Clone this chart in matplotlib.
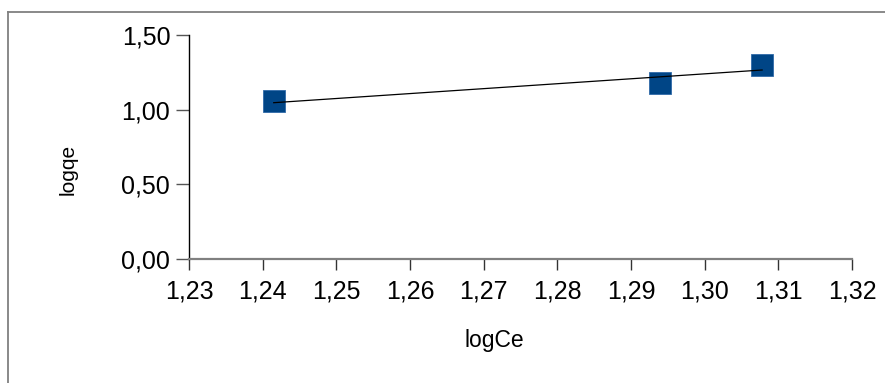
import numpy as np
import matplotlib
matplotlib.use("Agg")
import matplotlib.pyplot as plt
from matplotlib.lines import Line2D
from matplotlib.ticker import FuncFormatter

plt.rcParams["font.family"] = ["Liberation Sans", "DejaVu Sans"]

# ----- data -----
log_ce = [1.2415, 1.2939, 1.3078]
log_qe = [1.055, 1.180, 1.297]
x_ticks = [1.23, 1.24, 1.25, 1.26, 1.27, 1.28, 1.29, 1.30, 1.31, 1.32]
y_ticks = [0.0, 0.5, 1.0, 1.5]

_blue = "#004586"
_gray = "#808080"

W, H = 885, 383
fig = plt.figure(figsize=(W / 100, H / 100), dpi=100)
ax = fig.add_axes([189 / W, 1 - 259 / H, (852 - 189) / W, (259 - 35) / H])

# linear trend through the points
slope, icpt = np.polyfit(log_ce, log_qe, 1)
xs = np.array([min(log_ce), max(log_ce)])
ax.plot(xs, slope * xs + icpt, color="black", lw=0.9, zorder=3)
ax.plot(log_ce, log_qe, ls="none", marker="s", ms=16, color=_blue,
        markeredgecolor="#2f6aa8", markeredgewidth=0.6, zorder=2)

ax.set_xlim(x_ticks[0], x_ticks[-1])
ax.set_ylim(y_ticks[0], y_ticks[-1])
ax.set_xticks(x_ticks)
ax.set_yticks(y_ticks)
comma = lambda v, p: f"{v:.2f}".replace(".", ",")
ax.xaxis.set_major_formatter(FuncFormatter(comma))
ax.yaxis.set_major_formatter(FuncFormatter(comma))

for s in ["top", "right"]:
    ax.spines[s].set_visible(False)
ax.spines["left"].set_color("black")
ax.spines["left"].set_linewidth(1.0)
ax.spines["bottom"].set_color(_gray)
ax.spines["bottom"].set_linewidth(1.6)

ax.tick_params(axis="y", direction="out", length=9.5, width=1.0, color="#555555",
               labelsize=18, pad=4)
ax.tick_params(axis="x", direction="out", length=8, width=1.0, color="#333333",
               labelsize=18, pad=7)

ax.set_xlabel("logCe", fontsize=16.5)
ax.set_ylabel("logqe", fontsize=15)
ax.xaxis.set_label_coords(0.46, -0.362)
ax.yaxis.set_label_coords(-0.182, 0.40)
ax.xaxis.label.set_va("center")
ax.yaxis.label.set_va("center")

# outer frame (top and left edges only show)
fig.add_artist(Line2D([8 / W, 1], [1 - 12 / H, 1 - 12 / H], color=_gray, lw=1.3,
                      transform=fig.transFigure))
fig.add_artist(Line2D([8 / W, 8 / W], [0, 1 - 12 / H], color=_gray, lw=1.3,
                      transform=fig.transFigure))

fig.savefig("out.png", dpi=100)
